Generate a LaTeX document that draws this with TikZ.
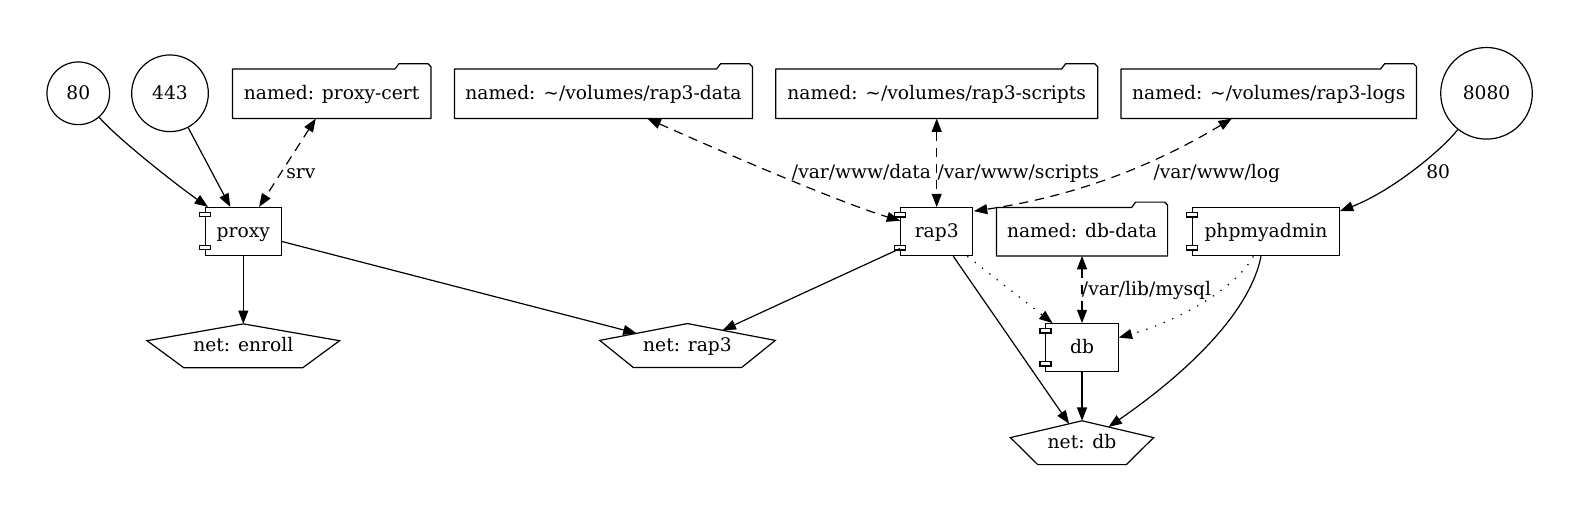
\documentclass[tikz,border=0pt]{standalone}
\usepackage{fontspec}
\setmainfont{DejaVu Serif}
\usetikzlibrary{arrows.meta,calc}
\begin{document}
\begin{tikzpicture}[x=0.75pt,y=-0.75pt,
  font=\fontsize{14pt}{16pt}\selectfont,
  >={Triangle[length=10pt,width=7.5pt]},
  lw/.style={line width=0.9pt},
  shp/.style={inner sep=0pt, text height=11pt, text depth=1.8pt},
  port/.style={shp, circle, draw, lw},
  comp/.style={shp, rectangle, draw, lw, minimum height=36pt},
  folder/.style={shp, rectangle, minimum height=36.75pt},
  netw/.style={shp, rectangle, minimum height=32.5pt},
  lbl/.style={inner sep=0pt, anchor=base west},
  arr/.style={lw, ->},
  biarr/.style={lw, <->, dash pattern=on 7pt off 5pt},
  dotarr/.style={lw, ->, dash pattern=on 1pt off 6pt},
]
\useasboundingbox (0,0) rectangle (1580,517);

% ports
\node[port, minimum size=47pt] (c80) at (78.3,93.3) {80};
\node[port, minimum size=57.5pt] (c443) at (170,93.3) {443};
\node[port, minimum size=68.7pt] (c8080) at (1486.5,93.3) {8080};

% volumes
\node[folder, minimum width=148.5pt] (proxycert) at (331.7,93.8) {named: proxy-cert};
\node[folder, minimum width=223.2pt] (rap3data) at (603.5,93.8) {named: \textasciitilde/volumes/rap3-data};
\node[folder, minimum width=241pt] (rap3scripts) at (936.7,93.8) {named: \textasciitilde/volumes/rap3-scripts};
\node[folder, minimum width=221.25pt] (rap3logs) at (1268.8,93.8) {named: \textasciitilde/volumes/rap3-logs};
\node[folder, minimum width=128pt, minimum height=36pt] (dbdata) at (1082,231.7) {named: db-data};

% services
\node[comp, minimum width=57.3pt] (proxy) at (243.3,231.5) {proxy};
\node[comp, minimum width=54pt] (rap3) at (936.7,231.7) {rap3};
\node[comp, minimum width=110pt] (phpmyadmin) at (1266,231.7) {phpmyadmin};
\node[comp, minimum width=54.2pt] (db) at (1082,347.7) {db};

% networks
\node[netw, minimum width=144pt] (netenroll) at (243.3,345.8) {net: enroll};
\node[netw, minimum width=131.25pt] (netrap3) at (687.5,345.5) {net: rap3};
\node[netw, minimum width=107pt] (netdb) at (1082,442.7) {net: db};

% folder outlines
\foreach \n in {proxycert,rap3data,rap3scripts,rap3logs,dbdata}
  \draw[lw, line join=round] (\n.south west) -- (\n.north west)
    -- ([shift={(-36,0)}]\n.north east) -- ([shift={(-32,-5.3)}]\n.north east)
    -- ([shift={(-3,-5.3)}]\n.north east) -- ([shift={(0,-2.3)}]\n.north east)
    -- (\n.south east) -- cycle;

% component decorations
\foreach \n in {proxy,rap3,phpmyadmin,db} {
  \draw[lw, fill=white] ([shift={(-5.3,5.2)}]\n.north west) rectangle ++(11,4.6);
  \draw[lw, fill=white] ([shift={(-5.3,38.2)}]\n.north west) rectangle ++(11,4.6);
}

% pentagon outlines
\foreach \n in {netenroll,netrap3,netdb}
  \draw[lw] (\n.north) -- ([shift={(0,-5.1)}]\n.west)
    -- ($(\n.south)!0.618!(\n.south west)$) -- ($(\n.south)!0.618!(\n.south east)$)
    -- ([shift={(0,-5.1)}]\n.east) -- cycle;

\coordinate (nr3l) at ($(netrap3.north)!0.58!([shift={(0,-5.1)}]netrap3.west)$);
\coordinate (nr3r) at ($(netrap3.north)!0.40!([shift={(0,-5.1)}]netrap3.east)$);
\coordinate (ndbl) at ($(netdb.north)!0.18!([shift={(0,-5.1)}]netdb.west)$);
\coordinate (ndbr) at ($(netdb.north)!0.37!([shift={(0,-5.1)}]netdb.east)$);

% labels
\node[lbl] (lsrv) at (286,178.7) {srv};
\node[lbl] (ldata) at (791.7,178.3) {/var/www/data};
\node[lbl] (lscripts) at (937.3,178.3) {/var/www/scripts};
\node[lbl] (llog) at (1153.3,178.3) {/var/www/log};
\node[lbl] (lmysql) at (1081.7,295) {/var/lib/mysql};
\node[lbl] (l80) at (1426,178.3) {80};

% edges
\draw[arr] (c80) .. controls (118,139) and (178,186) .. (proxy);
\draw[arr] (c443) -- (proxy);
\draw[biarr] (proxycert) -- (proxy);
\draw[arr] (proxy) -- (netenroll.north);
\draw[arr] (proxy) -- (nr3l);
\draw[arr] (rap3) -- (nr3r);
\draw[biarr] ([shift={(44,0)}]rap3data.south) .. controls (727,154) and (841,203) .. (rap3);
\draw[biarr] (rap3scripts) -- (rap3);
\draw[biarr] ([shift={(-37,0)}]rap3logs.south) .. controls (1148,169) and (1070,197) .. ([shift={(0.6,4)}]rap3.north east);
\draw[dotarr] ([shift={(-6,0)}]rap3.south east) -- ([shift={(7.3,0)}]db.north west);
\draw[arr] ([shift={(16.6,0)}]rap3.south) -- (ndbl);
\draw[biarr] (dbdata) -- (db);
\draw[arr] (db) -- (netdb.north);
\draw[dotarr] ([shift={(-12.7,0)}]phpmyadmin.south) .. controls (1235,290) and (1175,322) .. (db);
\draw[arr] ([shift={(-5,0)}]phpmyadmin.south) .. controls (1250,312) and (1188,372) .. (ndbr);
\draw[arr] (c8080) .. controls (1440,152) and (1390,192) .. ([shift={(0,4)}]phpmyadmin.north east);
\end{tikzpicture}
\end{document}
